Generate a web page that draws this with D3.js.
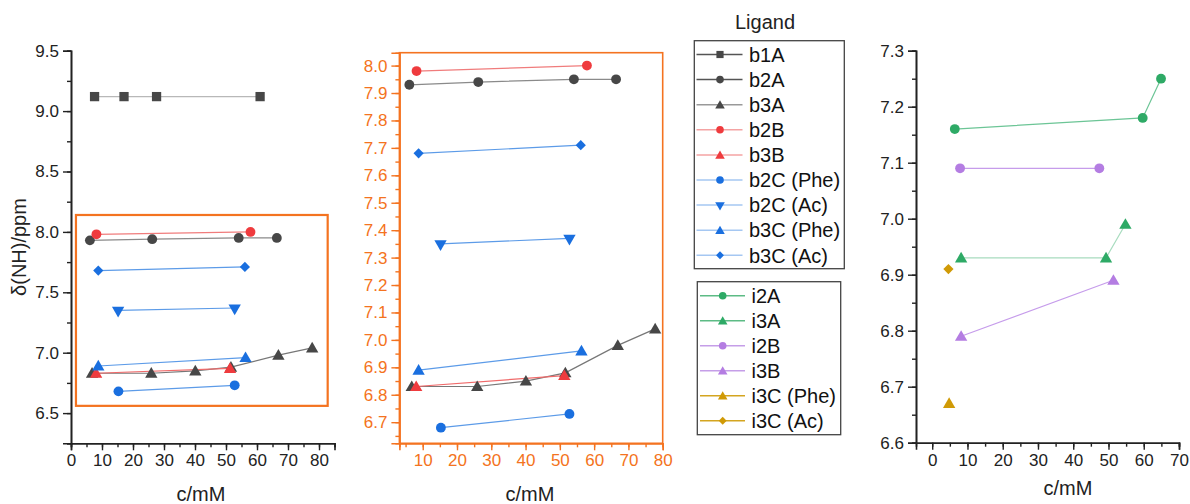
<!DOCTYPE html>
<html><head><meta charset="utf-8">
<script src="https://cdn.jsdelivr.net/npm/d3@7"></script>
<style>body{margin:0;background:#fff}svg{display:block;font-family:"Liberation Sans",Arial,sans-serif}</style>
</head><body><svg id="c" width="1190" height="504"></svg>
<script>
// ---- data ----
const seriesB = ["b1A","b2A","b3A","b2B","b3B","b2C (Phe)","b2C (Ac)","b3C (Phe)","b3C (Ac)"];
const seriesI = ["i2A","i3A","i2B","i3B","i3C (Phe)","i3C (Ac)"];
const b1A_x = [7.6, 17.1, 27.6, 61.0];      const b1A_y = [9.12, 9.12, 9.12, 9.12];
const b2A_x = [6.1, 26.2, 54.1, 66.4];      const b2A_y = [7.93, 7.94, 7.95, 7.95];
const b3A_x = [6.8, 25.9, 40.1, 51.6, 66.9, 77.8]; const b3A_y = [6.83, 6.83, 6.85, 6.88, 6.98, 7.04];
const b2B_x = [8.2, 57.9];                  const b2B_y = [7.98, 8.00];
const b3B_x = [8.1, 51.3];                  const b3B_y = [6.83, 6.87];
const b2CPhe_x = [15.3, 52.8];              const b2CPhe_y = [6.68, 6.73];
const b2CAc_x = [15.2, 52.8];               const b2CAc_y = [7.35, 7.37];
const b3CPhe_x = [8.8, 56.3];               const b3CPhe_y = [6.89, 6.96];
const b3CAc_x = [8.8, 56.1];                const b3CAc_y = [7.68, 7.71];
const i2A_x = [6.4, 59.7, 64.9];            const i2A_y = [7.16, 7.18, 7.25];
const i3A_x = [8.2, 49.3, 54.8];            const i3A_y = [6.93, 6.93, 6.99];
const i2B_x = [7.9, 47.4];                  const i2B_y = [7.09, 7.09];
const i3B_x = [8.2, 51.4];                  const i3B_y = [6.79, 6.89];
const i3CPhe_x = [4.8];                     const i3CPhe_y = [6.67];
const i3CAc_x = [4.6];                      const i3CAc_y = [6.91];
const leftYTicks = [6.5, 7.0, 7.5, 8.0, 8.5, 9.0, 9.5];
const leftXTicks = [0,10,20,30,40,50,60,70,80];
const midYTicks = [6.7,6.8,6.9,7.0,7.1,7.2,7.3,7.4,7.5,7.6,7.7,7.8,7.9,8.0];
const midXTicks = [10,20,30,40,50,60,70,80];
const rightYTicks = [6.6,6.7,6.8,6.9,7.0,7.1,7.2,7.3];
const rightXTicks = [0,10,20,30,40,50,60,70];
const zoomBoxX = [1.6, 82.8], zoomBoxY = [6.56, 8.14];

// ---- styles ----
const ORANGE = "#F47320";
const style = {
  "b1A":{sym:"square", fill:"#474747", line:"#b8b8b8", leg:"#555"},
  "b2A":{sym:"circle", fill:"#474747", line:"#8a8a8a", leg:"#555"},
  "b3A":{sym:"triangle", fill:"#474747", line:"#777", leg:"#999"},
  "b2B":{sym:"circle", fill:"#EF3B3E", line:"#F07C7C", leg:"#F4A3A3"},
  "b3B":{sym:"triangle", fill:"#EF3B3E", line:"#F06A6A", leg:"#F4A3A3"},
  "b2C (Phe)":{sym:"circle", fill:"#1A6FDF", line:"#5C9BE8", leg:"#A5C7F2"},
  "b2C (Ac)":{sym:"tridown", fill:"#1A6FDF", line:"#5C9BE8", leg:"#A5C7F2"},
  "b3C (Phe)":{sym:"triangle", fill:"#1A6FDF", line:"#5C9BE8", leg:"#A5C7F2"},
  "b3C (Ac)":{sym:"diamond", fill:"#1A6FDF", line:"#5C9BE8", leg:"#A5C7F2"},
  "i2A":{sym:"circle", fill:"#2EAA66", line:"#6CC596", leg:"#5DBB85"},
  "i3A":{sym:"triangle", fill:"#2EAA66", line:"#A8DCBF", leg:"#5DBB85"},
  "i2B":{sym:"circle", fill:"#B47DE2", line:"#C69CEB", leg:"#C59EE8"},
  "i3B":{sym:"triangle", fill:"#B47DE2", line:"#C69CEB", leg:"#C59EE8"},
  "i3C (Phe)":{sym:"triangle", fill:"#D09A06", line:"#D9B040", leg:"#D4A520"},
  "i3C (Ac)":{sym:"diamond", fill:"#D09A06", line:"#D9B040", leg:"#D4A520"}
};
const dataMap = {
  "b1A":[b1A_x,b1A_y],"b2A":[b2A_x,b2A_y],"b3A":[b3A_x,b3A_y],"b2B":[b2B_x,b2B_y],"b3B":[b3B_x,b3B_y],
  "b2C (Phe)":[b2CPhe_x,b2CPhe_y],"b2C (Ac)":[b2CAc_x,b2CAc_y],"b3C (Phe)":[b3CPhe_x,b3CPhe_y],"b3C (Ac)":[b3CAc_x,b3CAc_y],
  "i2A":[i2A_x,i2A_y],"i3A":[i3A_x,i3A_y],"i2B":[i2B_x,i2B_y],"i3B":[i3B_x,i3B_y],"i3C (Phe)":[i3CPhe_x,i3CPhe_y],"i3C (Ac)":[i3CAc_x,i3CAc_y]
};
function pts(name){const [xs,ys]=dataMap[name];return xs.map((x,i)=>({x,y:ys[i]}));}
function symPath(sym, scale){
  const s = scale||1;
  if(sym==="square") return d3.symbol(d3.symbolSquare, 86*s)();
  if(sym==="circle") return d3.symbol(d3.symbolCircle, 76*s)();
  if(sym==="triangle") return d3.symbol(d3.symbolTriangle, 66*s)();
  if(sym==="tridown") return d3.symbol(d3.symbolTriangle, 66*s)();
  if(sym==="diamond") return d3.symbol(d3.symbolSquare, 52*s)();
}
function symTransform(sym,x,y){
  if(sym==="tridown") return `translate(${x},${y}) rotate(180)`;
  if(sym==="diamond") return `translate(${x},${y}) rotate(45)`;
  if(sym==="triangle") return `translate(${x},${y+1})`;
  return `translate(${x},${y})`;
}
const svg = d3.select("#c");
const FS = 17;

function panel(o){
  const g = svg.append("g");
  const x = d3.scaleLinear().domain(o.xd).range(o.xr);
  const y = d3.scaleLinear().domain(o.yd).range(o.yr);
  const col = o.axisColor;
  const yMinor = d3.range(Math.ceil(o.yd[0]/o.yMinorStep-1e-6), Math.floor(o.yd[1]/o.yMinorStep+1e-6)+1).map(k=>+(k*o.yMinorStep).toFixed(3));
  const xMinor = d3.range(Math.ceil(o.xd[0]/o.xMinorStep-1e-6), Math.floor(o.xd[1]/o.xMinorStep+1e-6)+1).map(k=>k*o.xMinorStep);
  const ax = g.append("g").attr("transform",`translate(${o.xr[0]},0)`)
    .call(d3.axisLeft(y).tickValues(yMinor).tickSize(4).tickFormat(""));
  const ax2 = g.append("g").attr("transform",`translate(0,${o.yr[0]})`)
    .call(d3.axisBottom(x).tickValues(xMinor).tickSize(4).tickFormat(""));
  const ya = g.append("g").attr("transform",`translate(${o.xr[0]},0)`)
    .call(d3.axisLeft(y).tickValues(o.yTicks).tickSize(8).tickPadding(4).tickFormat(d3.format(".1f")));
  const xa = g.append("g").attr("transform",`translate(0,${o.yr[0]})`)
    .call(d3.axisBottom(x).tickValues(o.xTicks).tickSize(7).tickPadding(4).tickFormat(d3.format("d")));
  [ax,ax2,ya,xa].forEach(a=>{
    a.selectAll(".domain").attr("stroke",col).attr("stroke-width",1.6);
    a.selectAll(".tick line").attr("stroke",col).attr("stroke-width",1.4);
    a.selectAll("text").attr("fill",o.labelColor).attr("font-size",FS).attr("font-family","'Liberation Sans',Arial,sans-serif");
  });
  if(o.frame){
    g.append("rect").attr("x",o.xr[0]).attr("y",o.yr[1]).attr("width",o.xr[1]-o.xr[0]).attr("height",o.yr[0]-o.yr[1])
      .attr("fill","none").attr("stroke",col).attr("stroke-width",1.6);
  }
  o.series.forEach(name=>{
    const st = style[name], p = pts(name);
    g.append("path").datum(p).attr("fill","none").attr("stroke",st.line).attr("stroke-width",1.2)
      .attr("d",d3.line().x(d=>x(d.x)).y(d=>y(d.y)));
  });
  o.series.forEach(name=>{
    const st = style[name], p = pts(name);
    g.selectAll(null).data(p).enter().append("path")
      .attr("d",symPath(st.sym)).attr("transform",d=>symTransform(st.sym,x(d.x),y(d.y)))
      .attr("fill",st.fill);
  });
  g.append("text").attr("x",o.xTitlePos[0]).attr("y",o.xTitlePos[1]).attr("text-anchor","middle")
    .attr("font-size",20).attr("fill","#222").text("c/mM");
  return {x,y,g};
}

const L = panel({xd:[0,85], xr:[71,334.5], yd:[6.25,9.5], yr:[443.3,50.7], yTicks:leftYTicks, xTicks:leftXTicks,
  yMinorStep:0.25, xMinorStep:5, axisColor:"#222", labelColor:"#222", frame:false, series:seriesB, xTitlePos:[201,501]});
L.g.append("rect").attr("x",L.x(zoomBoxX[0])).attr("y",L.y(zoomBoxY[1]))
  .attr("width",L.x(zoomBoxX[1])-L.x(zoomBoxX[0])).attr("height",L.y(zoomBoxY[0])-L.y(zoomBoxY[1]))
  .attr("fill","none").attr("stroke",ORANGE).attr("stroke-width",2.2);
L.g.append("text").attr("transform","translate(26,247) rotate(-90)").attr("text-anchor","middle")
  .attr("font-size",20).attr("fill","#222").text("δ(NH)/ppm");

panel({xd:[3.2,80], xr:[399.4,662.7], yd:[6.623,8.047], yr:[443.3,52.7], yTicks:midYTicks, xTicks:midXTicks,
  yMinorStep:0.05, xMinorStep:5, axisColor:ORANGE, labelColor:ORANGE, frame:true, series:seriesB.slice(1), xTitlePos:[530,501]});

panel({xd:[-4.6,70], xr:[916,1179], yd:[6.6,7.3], yr:[442.7,50.7], yTicks:rightYTicks, xTicks:rightXTicks,
  yMinorStep:0.05, xMinorStep:5, axisColor:"#222", labelColor:"#222", frame:false, series:seriesI, xTitlePos:[1068,495]});

// ---- legends ----
svg.append("text").attr("x",765).attr("y",29).attr("text-anchor","middle").attr("font-size",20).attr("fill","#222").text("Ligand");
function legend(names, box, y0, dy, lx0, lx1, mx, tx){
  svg.append("rect").attr("x",box[0]).attr("y",box[1]).attr("width",box[2]).attr("height",box[3])
    .attr("fill","#fff").attr("stroke","#444").attr("stroke-width",1.3);
  names.forEach((n,i)=>{
    const st = style[n], yy = y0+i*dy;
    svg.append("line").attr("x1",lx0).attr("x2",lx1).attr("y1",yy).attr("y2",yy).attr("stroke",st.leg).attr("stroke-width",1.5);
    svg.append("path").attr("d",symPath(st.sym,0.6)).attr("transform",symTransform(st.sym,mx,yy)).attr("fill",st.fill);
    svg.append("text").attr("x",tx).attr("y",yy).attr("dy","0.36em").attr("font-size",20).attr("fill","#111").text(n);
  });
}
legend(seriesB, [694.3,40.7,150,228], 54.5, 25.1, 696.5, 742.5, 720, 749);
legend(seriesI, [697.3,281.7,143.4,153], 295.7, 25, 700, 745, 722.7, 751.5);
</script></body></html>
